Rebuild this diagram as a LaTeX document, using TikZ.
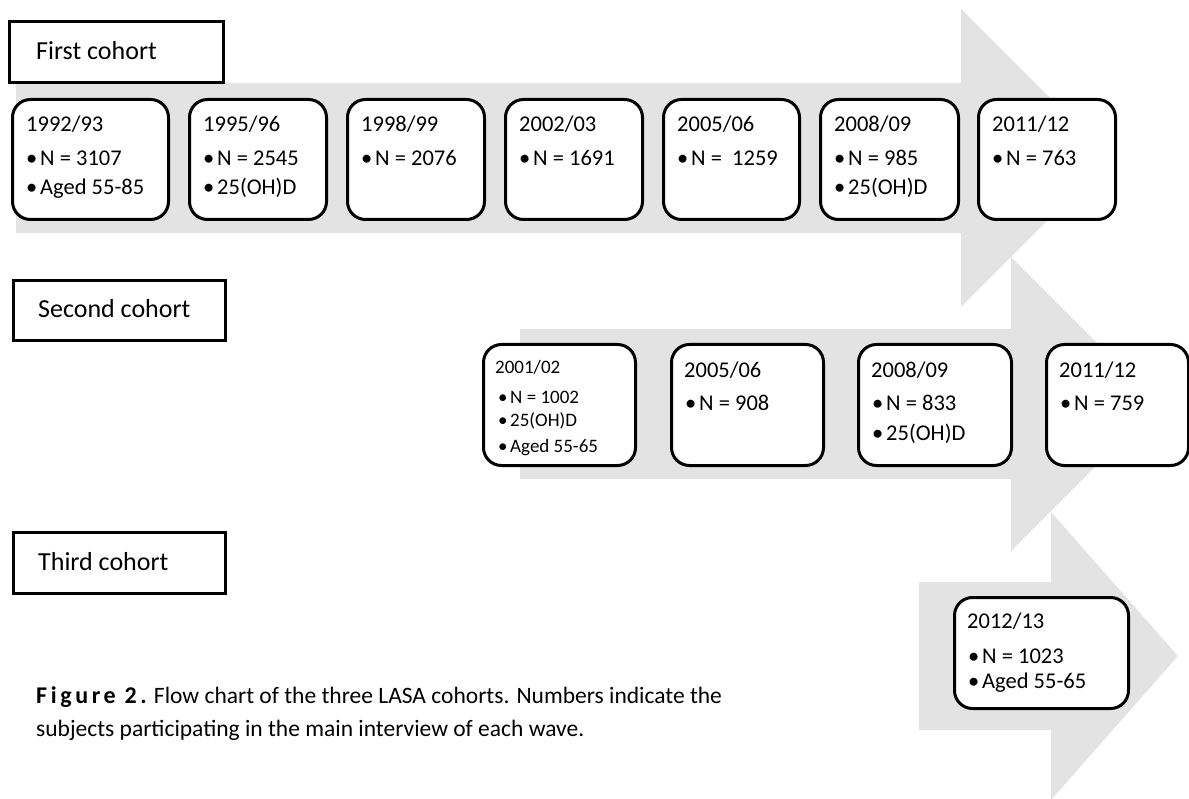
\documentclass[tikz,border=0pt]{standalone}
\usepackage{fontspec}
\setmainfont{Carlito}
\definecolor{arrowgray}{RGB}{227,227,227}
\begin{document}
\begin{tikzpicture}[x=1pt,y=-1pt,
  wbox/.style={draw=black, line width=3pt, rounded corners=18pt, fill=white, anchor=north west, inner sep=0pt},
  lbox/.style={draw=black, line width=3pt, fill=white, anchor=north west, inner sep=0pt},
  txt/.style={anchor=base west, inner sep=0pt, font=\fontsize{22.5}{26}\selectfont},
  stxt/.style={anchor=base west, inner sep=0pt, font=\fontsize{19}{23}\selectfont},
  ltxt/.style={anchor=west, inner sep=0pt, font=\fontsize{26}{30}\selectfont},
  captxt/.style={anchor=base west, inner sep=0pt, font=\fontsize{23.5}{30}\selectfont},
  bigarrow/.style={fill=arrowgray, draw=none}]
\useasboundingbox (0,0) rectangle (1189,799);

% gray arrows
\fill[bigarrow] (16,83) -- (961,83) -- (961,9) -- (1110,158) -- (961,307) -- (961,233) -- (16,233) -- cycle;
\fill[bigarrow] (520,329) -- (1011,329) -- (1011,257) -- (1158,404) -- (1011,551) -- (1011,479) -- (520,479) -- cycle;
\fill[bigarrow] (919,582) -- (1051,582) -- (1051,512) -- (1178,656) -- (1051,800) -- (1051,730) -- (919,730) -- cycle;

% cohort labels
\node[lbox, minimum width=214, minimum height=61] (L1) at (8,20) {};
\node[ltxt] (L1t) at (36,50.5) {First cohort};
\node[lbox, minimum width=212, minimum height=60] (L2) at (12,279) {};
\node[ltxt] (L2t) at (38,309) {Second cohort};
\node[lbox, minimum width=212, minimum height=61] (L3) at (12,531) {};
\node[ltxt] (L3t) at (38,561.5) {Third cohort};

% row 1
\node[wbox, minimum width=156, minimum height=120] (b1) at (11,98) {};
\node[txt] (b1y) at (26,132) {1992/93};
\node[txt] (b1a) at (26,166) {•}; \node[txt] (b1at) at (40,166) {N = 3107};
\node[txt] (b1b) at (26,195) {•}; \node[txt] (b1bt) at (40,195) {Aged 55-85};

\node[wbox, minimum width=137, minimum height=120] (b2) at (188,98) {};
\node[txt] (b2y) at (203,132) {1995/96};
\node[txt] (b2a) at (203,166) {•}; \node[txt] (b2at) at (217,166) {N = 2545};
\node[txt] (b2b) at (203,195) {•}; \node[txt] (b2bt) at (217,195) {25(OH)D};

\node[wbox, minimum width=137, minimum height=120] (b3) at (346,98) {};
\node[txt] (b3y) at (361,132) {1998/99};
\node[txt] (b3a) at (361,166) {•}; \node[txt] (b3at) at (375,166) {N = 2076};

\node[wbox, minimum width=137, minimum height=120] (b4) at (504,98) {};
\node[txt] (b4y) at (519,132) {2002/03};
\node[txt] (b4a) at (519,166) {•}; \node[txt] (b4at) at (533,166) {N = 1691};

\node[wbox, minimum width=136, minimum height=120] (b5) at (662,98) {};
\node[txt] (b5y) at (677,132) {2005/06};
\node[txt] (b5a) at (677,166) {•}; \node[txt] (b5at) at (691,166) {N = \ 1259};

\node[wbox, minimum width=138, minimum height=120] (b6) at (819,98) {};
\node[txt] (b6y) at (834,132) {2008/09};
\node[txt] (b6a) at (834,166) {•}; \node[txt] (b6at) at (848,166) {N = 985};
\node[txt] (b6b) at (834,195) {•}; \node[txt] (b6bt) at (848,195) {25(OH)D};

\node[wbox, minimum width=137, minimum height=120] (b7) at (977,98) {};
\node[txt] (b7y) at (992,132) {2011/12};
\node[txt] (b7a) at (992,166) {•}; \node[txt] (b7at) at (1006,166) {N = 763};

% row 2
\node[wbox, minimum width=152, minimum height=121] (c1) at (482,343) {};
\node[stxt] (c1y) at (495,374) {2001/02};
\node[stxt] (c1a) at (498,404) {•}; \node[stxt] (c1at) at (510,404) {N = 1002};
\node[stxt] (c1b) at (498,427) {•}; \node[stxt] (c1bt) at (510,427) {25(OH)D};
\node[stxt] (c1c) at (498,453) {•}; \node[stxt] (c1ct) at (510,453) {Aged 55-65};

\node[wbox, minimum width=152, minimum height=121] (c2) at (670,343) {};
\node[txt] (c2y) at (684,378) {2005/06};
\node[txt] (c2a) at (685,411) {•}; \node[txt] (c2at) at (699,411) {N = 908};

\node[wbox, minimum width=153, minimum height=121] (c3) at (857,343) {};
\node[txt] (c3y) at (871,378) {2008/09};
\node[txt] (c3a) at (872,411) {•}; \node[txt] (c3at) at (886,411) {N = 833};
\node[txt] (c3b) at (872,441) {•}; \node[txt] (c3bt) at (886,441) {25(OH)D};

\node[wbox, minimum width=142, minimum height=121] (c4) at (1045,343) {};
\node[txt] (c4y) at (1059,378) {2011/12};
\node[txt] (c4a) at (1060,411) {•}; \node[txt] (c4at) at (1074,411) {N = 759};

% row 3
\node[wbox, minimum width=174, minimum height=111] (d1) at (953,596) {};
\node[txt] (d1y) at (967,628) {2012/13};
\node[txt] (d1a) at (968,663) {•}; \node[txt] (d1at) at (982,663) {N = 1023};
\node[txt] (d1b) at (968,688) {•}; \node[txt] (d1bt) at (982,688) {Aged 55-65};

% caption
\node[captxt] (cap1) at (36,703) {{\fontsize{24}{30}\selectfont\bfseries\addfontfeatures{LetterSpace=15}Figure 2.} Flow chart of the three LASA cohorts. Numbers indicate the};
\node[captxt] (cap2) at (36,736) {subjects participating in the main interview of each wave.};
\end{tikzpicture}
\end{document}
